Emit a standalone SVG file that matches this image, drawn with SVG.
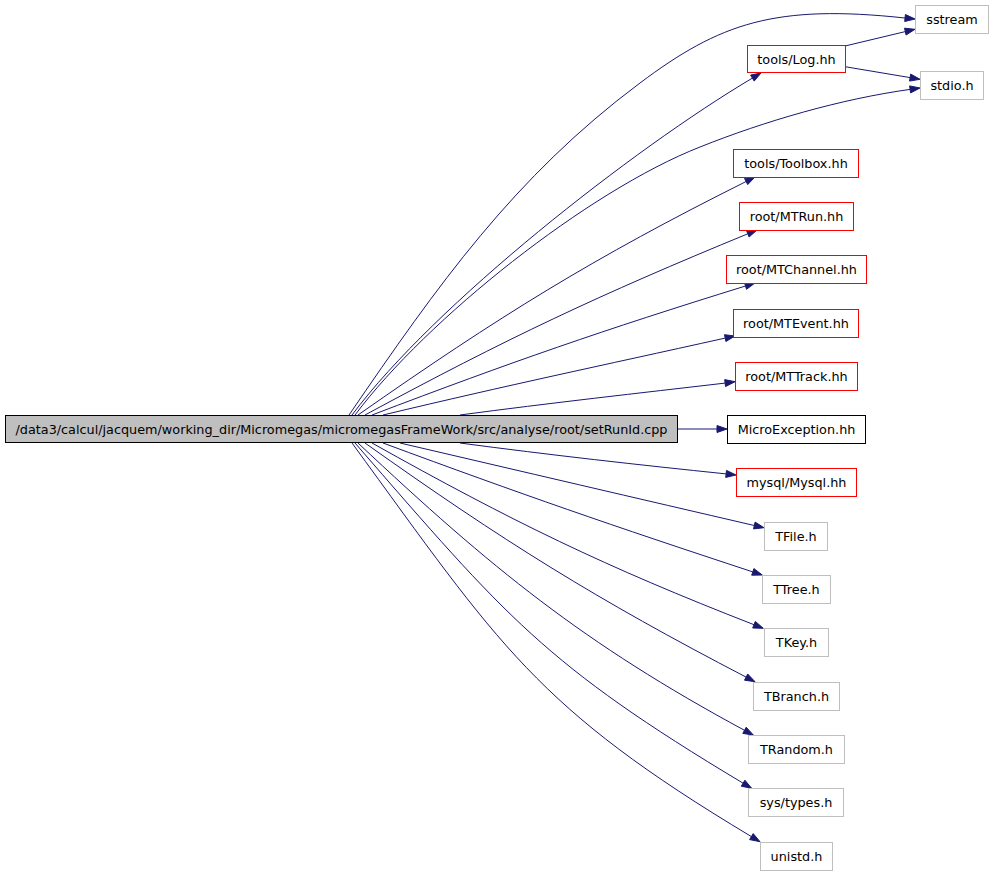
<svg xmlns="http://www.w3.org/2000/svg" width="995" height="876" viewBox="0 0 995 876">
<style>
.n rect{fill:#ffffff;stroke-width:1}
.red rect{stroke:#ff0000}
.blk rect{stroke:#000000}
.gry rect{stroke:#bfbfbf}
.main rect{fill:#bfbfbf;stroke:#000000}
text{font-family:"DejaVu Sans","Liberation Sans",sans-serif;font-size:12.8px;fill:#000000;text-anchor:middle}
.e path{fill:none;stroke:#191970;stroke-width:1}
.e polygon{fill:#191970;stroke:#191970;stroke-width:1}
</style>
<rect x="0" y="0" width="995" height="876" fill="#ffffff"/>
<g id="edges" class="e">
<path d="M349,415 C438,285 514,177 640,83 C720,23 775,4 905,18"/><polygon points="915,19 904.7,21.5 905.4,14.5"/>
<path d="M352,415 C435,304 633,149 752.4,78.1"/><polygon points="761,73 754.2,81.1 750.6,75.1"/>
<path d="M355,415 C427,319 588,191 700,147 C765,121 841,99 910.1,89.4"/><polygon points="920,88 910.6,92.9 909.6,85.9"/>
<path d="M358,415 C498.9,316.4 592.3,258.4 746.1,181.5"/><polygon points="755,177 747.7,184.6 744.5,178.4"/>
<path d="M365,415 C506.7,338.5 598.8,295 747.8,233.8"/><polygon points="757,230 749.1,237 746.5,230.6"/>
<path d="M372,415 C512.2,361.7 602.2,330.4 745.5,286"/><polygon points="755,283 746.5,289.3 744.5,282.7"/>
<path d="M383,415 C513,384 595,367 725.2,338.1"/><polygon points="735,336 725.9,341.5 724.5,334.7"/>
<path d="M460,415 C550,403 640,393 725.1,383.1"/><polygon points="735,381.7 725.5,386.6 724.7,379.6"/>
<path d="M677,429 L717,429"/><polygon points="727,429 717,432.5 717,425.5"/>
<path d="M460,443 C550,455 640,465 726.1,473.9"/><polygon points="736,475 725.7,477.4 726.5,470.4"/>
<path d="M400,443 C520,471 640,499 754.3,525.5"/><polygon points="764,527.7 753.5,528.9 755.1,522.1"/>
<path d="M383,443 C522.8,494.7 611.2,525.3 752.8,571.9"/><polygon points="762.3,575 751.7,575.2 753.9,568.6"/>
<path d="M372,443 C512.2,521.5 604.2,566.4 754,624.7"/><polygon points="763.3,628.3 752.7,628 755.3,621.4"/>
<path d="M365,443 C503.6,541.4 595.3,598.7 746.1,677.1"/><polygon points="755,681.7 744.5,680.2 747.7,674"/>
<path d="M358,443 C491.3,568.3 583.5,643.4 744.5,730.3"/><polygon points="753.3,735 742.8,733.4 746.2,727.2"/>
<path d="M355,443 C507.2,618.1 544.3,664 743.1,783.2"/><polygon points="751.7,788.3 741.3,786.2 744.9,780.2"/>
<path d="M352,443 C500.6,646.6 535.4,707.1 751.4,836.6"/><polygon points="760,841.7 749.6,839.6 753.2,833.6"/>
<path d="M845,46 L905.3,31.6"/><polygon points="915,29.3 906.1,35 904.5,28.2"/>
<path d="M845,66.7 L910.1,77.6"/><polygon points="920,79.3 909.5,81.1 910.7,74.1"/>
</g>
<g id="node_main" class="n main"><rect x="5.5" y="415.5" width="672" height="27"/><text x="341.5" y="433.5">/data3/calcul/jacquem/working_dir/Micromegas/micromegasFrameWork/src/analyse/root/setRunId.cpp</text></g>
<g id="node_sstream" class="n gry"><rect x="915.5" y="5.5" width="73" height="28"/><text x="952" y="24">sstream</text></g>
<g id="node_log" class="n red"><rect x="747.5" y="45.5" width="98" height="27"/><text x="796.5" y="63.5">tools/Log.hh</text></g>
<g id="node_stdio" class="n gry"><rect x="920.5" y="71.5" width="63" height="28"/><text x="952" y="90">stdio.h</text></g>
<g id="node_toolbox" class="n red"><rect x="733.5" y="149.5" width="125" height="28"/><text x="796" y="168">tools/Toolbox.hh</text></g>
<g id="node_mtrun" class="n red"><rect x="739.5" y="202.5" width="114" height="28"/><text x="796.5" y="221">root/MTRun.hh</text></g>
<g id="node_mtchannel" class="n red"><rect x="726.5" y="255.5" width="140" height="28"/><text x="796.5" y="274">root/MTChannel.hh</text></g>
<g id="node_mtevent" class="n red"><rect x="733.5" y="309.5" width="125" height="28"/><text x="796" y="328">root/MTEvent.hh</text></g>
<g id="node_mttrack" class="n red"><rect x="735.5" y="362.5" width="122" height="28"/><text x="796.5" y="381">root/MTTrack.hh</text></g>
<g id="node_microexception" class="n blk"><rect x="727.5" y="415.5" width="138" height="28"/><text x="796.5" y="434">MicroException.hh</text></g>
<g id="node_mysql" class="n red"><rect x="736.5" y="468.5" width="120" height="28"/><text x="796.5" y="487">mysql/Mysql.hh</text></g>
<g id="node_tfile" class="n gry"><rect x="764.5" y="522.5" width="63" height="28"/><text x="796" y="541">TFile.h</text></g>
<g id="node_ttree" class="n gry"><rect x="762.5" y="575.5" width="68" height="28"/><text x="796.5" y="594">TTree.h</text></g>
<g id="node_tkey" class="n gry"><rect x="764.5" y="628.5" width="64" height="28"/><text x="796.5" y="647">TKey.h</text></g>
<g id="node_tbranch" class="n gry"><rect x="753.5" y="682.5" width="86" height="28"/><text x="796.5" y="701">TBranch.h</text></g>
<g id="node_trandom" class="n gry"><rect x="748.5" y="735.5" width="96" height="28"/><text x="796.5" y="754">TRandom.h</text></g>
<g id="node_systypes" class="n gry"><rect x="748.5" y="788.5" width="95" height="28"/><text x="796" y="807">sys/types.h</text></g>
<g id="node_unistd" class="n gry"><rect x="760.5" y="842.5" width="72" height="28"/><text x="796.5" y="861">unistd.h</text></g>
</svg>
